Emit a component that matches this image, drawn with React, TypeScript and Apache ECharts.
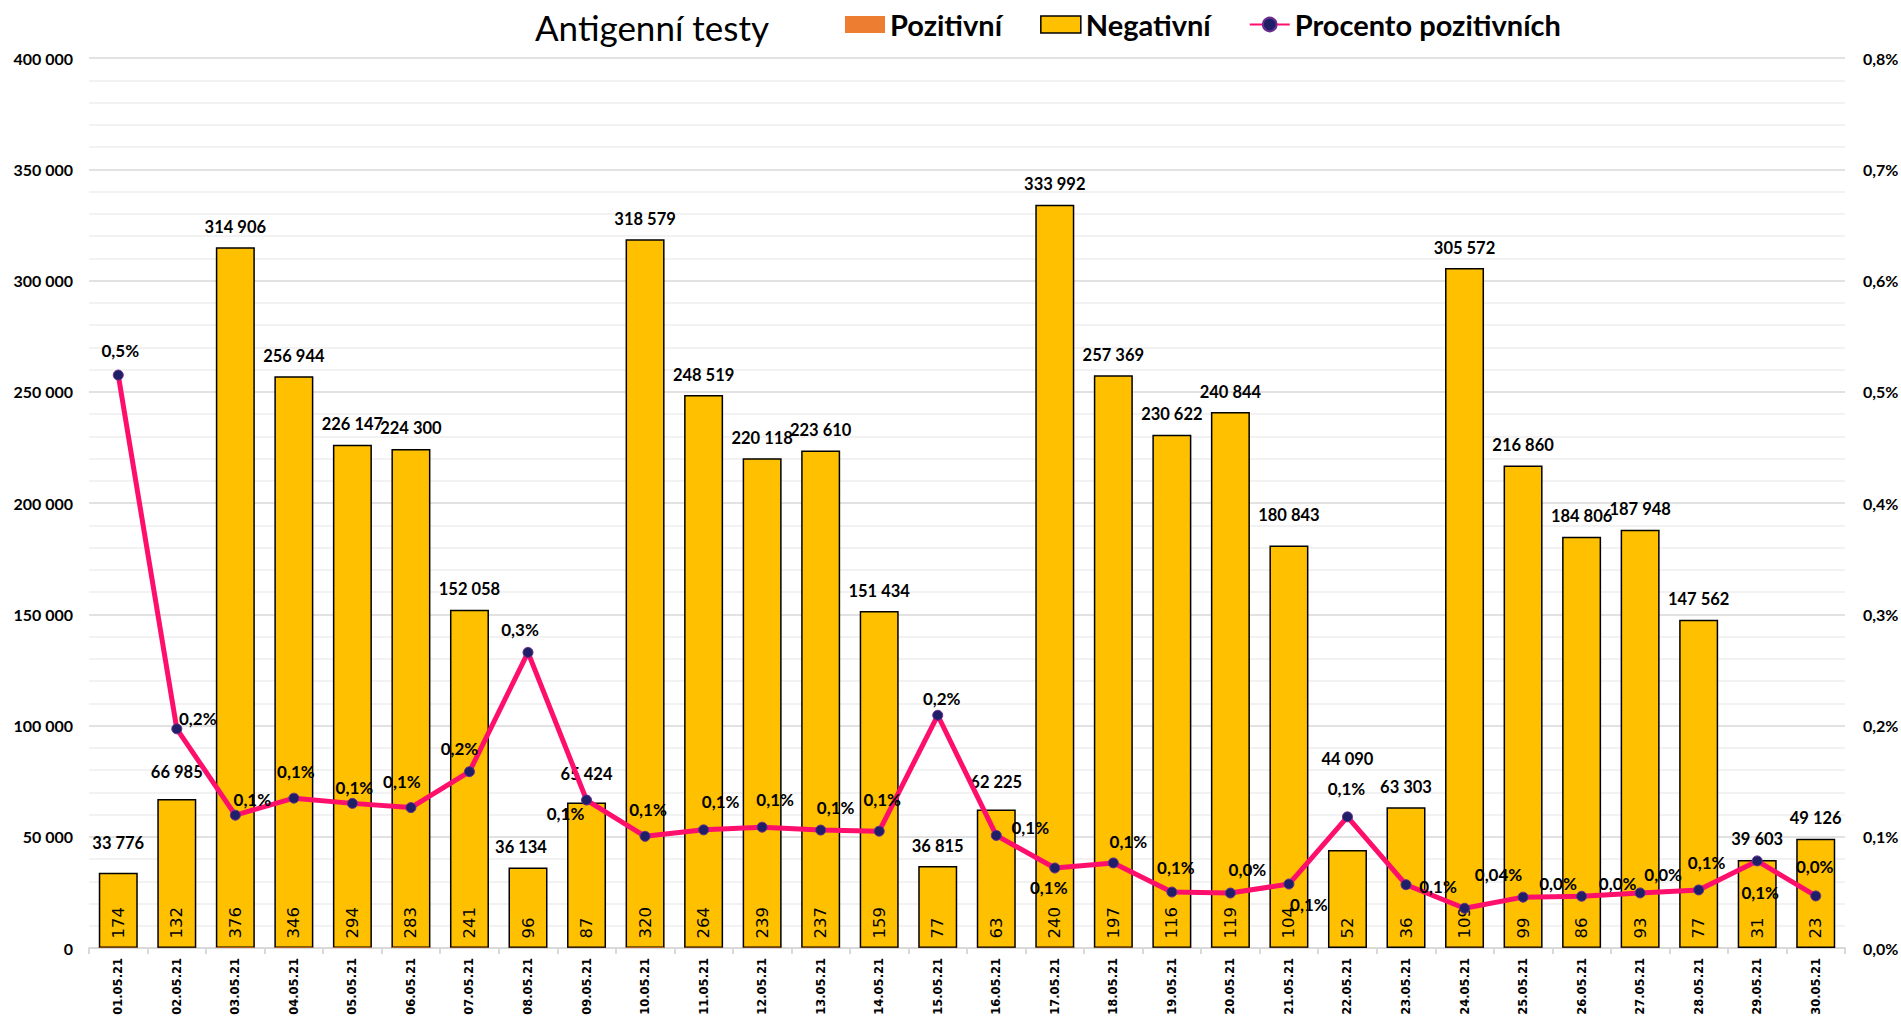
import React, { useEffect, useRef } from "react";
import * as echarts from "echarts";

const dates = [
  "01.05.21", "02.05.21", "03.05.21", "04.05.21", "05.05.21", "06.05.21", "07.05.21", "08.05.21", "09.05.21", "10.05.21",
  "11.05.21", "12.05.21", "13.05.21", "14.05.21", "15.05.21", "16.05.21", "17.05.21", "18.05.21", "19.05.21", "20.05.21",
  "21.05.21", "22.05.21", "23.05.21", "24.05.21", "25.05.21", "26.05.21", "27.05.21", "28.05.21", "29.05.21", "30.05.21",
];

const negativeTests = [
  33776, 66985, 314906, 256944, 226147, 224300, 152058, 36134, 65424, 318579,
  248519, 220118, 223610, 151434, 36815, 62225, 333992, 257369, 230622, 240844,
  180843, 44090, 63303, 305572, 216860, 184806, 187948, 147562, 39603, 49126,
];

const positiveTests = [
  174, 132, 376, 346, 294, 283, 241, 96, 87, 320,
  264, 239, 237, 159, 77, 63, 240, 197, 116, 119,
  104, 52, 36, 109, 99, 86, 93, 77, 31, 23,
];

// percent of positive tests (in %)
const positiveShare = [
  0.515, 0.197, 0.1194, 0.1347, 0.13, 0.1262, 0.1585, 0.2657, 0.133, 0.1004,
  0.1062, 0.1086, 0.106, 0.105, 0.2092, 0.1012, 0.0719, 0.0765, 0.0503, 0.0494,
  0.0575, 0.1179, 0.0569, 0.0357, 0.0457, 0.0465, 0.0495, 0.0522, 0.0783, 0.0468,
];

const shareDecimals = [
  1, 1, 1, 1, 1, 1, 1, 1, 1, 1,
  1, 1, 1, 1, 1, 1, 1, 1, 1, 1,
  1, 1, 1, 2, 1, 1, 1, 1, 1, 1,
];

const leftAxisMax = 400000;
const leftAxisInterval = 50000;
const rightAxisMax = 0.8;
const rightAxisInterval = 0.1;

// label placement (style only)
const barLabelLift = [
  9, 6, 0, 0, 0, 0, 0, 0, 8, 0,
  0, 0, 0, 0, 0, 7, 0, 0, 0, 0,
  10, 70, 0, 0, 0, 0, 0, 0, 0, 0,
];
const barLabelShift = [
  0, 0, 0, 0, 0, 0, 0, -7, 0, 0,
  0, 0, 0, 0, 0, 0, 0, 0, 0, 0,
  0, 0, 0, 0, 0, 0, 0, 0, 0, 0,
];
const lineLabelOffsets: [number, number][] = [
  [2, -25], [21, -10], [17, -16], [2, -27], [2, -16], [-9, -26], [-10, -23], [-8, -23], [-21, 13], [3, -27],
  [17, -28], [13, -28], [15, -23], [3, -32], [4, -17], [34, -8], [-6, 19], [15, -21], [4, -25], [17, -24],
  [20, 20], [-1, -28], [32, 2], [34, -34], [35, -14], [36, -13], [23, -18], [8, -27], [3, 32], [-1, -29],
];

const thousands = (v: number) => String(Math.round(v)).replace(/\B(?=(\d{3})+(?!\d))/g, " ");

export default function App() {
  const ref = useRef<HTMLDivElement>(null);

  useEffect(() => {
    if (!ref.current) return;
    const chart = echarts.init(ref.current, null, { renderer: "svg" });

    const negData = negativeTests.map((v, i) => ({
      value: v,
      label: { offset: [barLabelShift[i], -barLabelLift[i]] },
    }));

    const lineData = positiveShare.map((v, i) => ({
      value: v,
      label: {
        offset: lineLabelOffsets[i],
        formatter: () => v.toFixed(shareDecimals[i]).replace(".", ",") + "%",
      },
    }));

    const positiveLabelData = positiveTests.map((v, i) => ({
      value: [i, 0],
      label: { formatter: String(v) },
    }));

    const calibriLike = "Lato";

    const option: any = {
      animation: false,
      backgroundColor: "#ffffff",
      title: {
        text: "Antigenní testy",
        left: 535,
        top: 9,
        padding: 0,
        textStyle: { fontFamily: calibriLike, fontSize: 35, fontWeight: "normal", color: "#000" },
      },
      legend: {
        left: 845,
        top: 10,
        padding: 0,
        itemGap: 38,
        itemWidth: 40,
        itemHeight: 17,
        textStyle: { fontFamily: calibriLike, fontSize: 29, fontWeight: "bold", color: "#000" },
        data: [
          { name: "Pozitivní", icon: "rect", itemStyle: { color: "#ED7D31", borderWidth: 0 } },
          { name: "Negativní", icon: "rect", itemStyle: { color: "#FFC000", borderColor: "#000", borderWidth: 1.5 } },
          { name: "Procento pozitivních" },
        ],
      },
      grid: { left: 89, right: 56, top: 58, bottom: 71, containLabel: false, outerBoundsMode: "none" },
      xAxis: {
        type: "category",
        data: dates,
        boundaryGap: true,
        axisLine: { show: true, lineStyle: { color: "#d9d9d9", width: 2 } },
        axisTick: { show: true, length: 6, lineStyle: { color: "#d9d9d9", width: 2 } },
        axisLabel: {
          interval: 0,
          rotate: 90,
          margin: 10,
          fontFamily: "DejaVu Sans",
          fontSize: 11.5,
          fontWeight: "bold",
          color: "#000",
        },
        splitLine: { show: false },
      },
      yAxis: [
        {
          type: "value",
          min: 0,
          max: leftAxisMax,
          interval: leftAxisInterval,
          axisLine: { show: false },
          axisTick: { show: false },
          axisLabel: {
            margin: 16,
            formatter: (v: number) => thousands(v),
            fontFamily: calibriLike,
            fontSize: 16,
            fontWeight: "bold",
            color: "#000",
          },
          splitLine: { show: true, lineStyle: { color: "#d9d9d9", width: 1.5 } },
          minorTick: { show: false, splitNumber: 5 },
          minorSplitLine: { show: true, lineStyle: { color: "#eeeeee", width: 1.5 } },
        },
        {
          type: "value",
          position: "right",
          min: 0,
          max: rightAxisMax,
          interval: rightAxisInterval,
          axisLine: { show: false },
          axisTick: { show: false },
          splitLine: { show: false },
          axisLabel: {
            margin: 18,
            formatter: (v: number) => v.toFixed(1).replace(".", ",") + "%",
            fontFamily: calibriLike,
            fontSize: 16,
            fontWeight: "bold",
            color: "#000",
          },
        },
      ],
      series: [
        {
          name: "Negativní",
          type: "bar",
          data: negData,
          barWidth: 39,
          barGap: "-100%",
          z: 2,
          itemStyle: { color: "#FFC000", borderColor: "#000", borderWidth: 1.5 },
          label: {
            show: true,
            position: "top",
            distance: 12,
            formatter: (p: any) => thousands(p.value),
            fontFamily: calibriLike,
            fontSize: 16.5,
            fontWeight: "bold",
            color: "#000",
          },
        },
        {
          name: "Pozitivní",
          type: "bar",
          data: positiveTests,
          barWidth: 39,
          barGap: "-100%",
          z: 3,
          itemStyle: { color: "#ED7D31" },
          label: { show: false },
        },
        {
          name: "positiveCountLabels",
          type: "scatter",
          data: positiveLabelData,
          z: 4,
          symbol: "circle",
          symbolSize: 1,
          silent: true,
          itemStyle: { color: "rgba(0,0,0,0)" },
          label: {
            show: true,
            position: "top",
            distance: 9,
            rotate: 90,
            align: "left",
            verticalAlign: "middle",
            fontFamily: "DejaVu Sans",
            fontSize: 16.5,
            fontWeight: "normal",
            color: "#000000",
            opacity: 1,
            textBorderWidth: 0,
          },
        },
        {
          name: "Procento pozitivních",
          type: "line",
          yAxisIndex: 1,
          data: lineData,
          z: 5,
          symbol: "circle",
          symbolSize: 10,
          lineStyle: { color: "#FF0F6C", width: 5 },
          itemStyle: { color: "#1E1F66", borderColor: "#6B2C91", borderWidth: 1 },
          label: {
            show: true,
            position: "inside",
            align: "center",
            verticalAlign: "middle",
            fontFamily: calibriLike,
            fontSize: 17,
            fontWeight: "bold",
            color: "#000",
            textBorderWidth: 0,
          },
        },
      ],
    };

    chart.setOption(option);
    return () => chart.dispose();
  }, []);

  return (
    <div
      ref={ref}
      style={{ position: "fixed", left: 0, top: 0, width: "100vw", height: "100vh", background: "#fff" }}
    />
  );
}
